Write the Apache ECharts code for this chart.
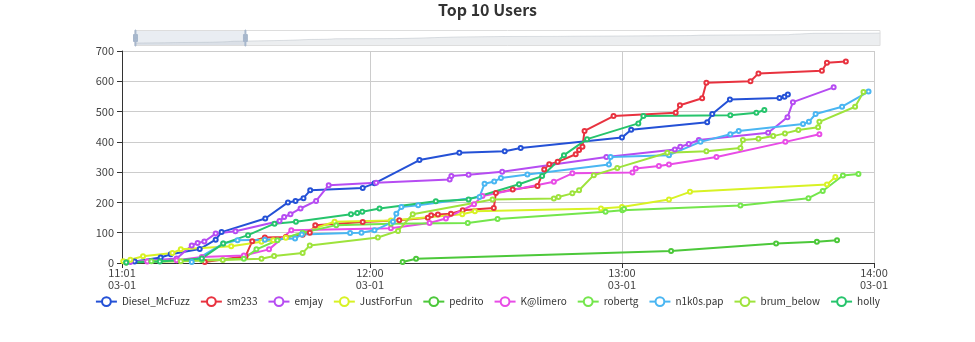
<!DOCTYPE html>
<html>
<head>
<meta charset="utf-8">
<script src="https://cdn.jsdelivr.net/npm/echarts@6/dist/echarts.min.js"></script>
<style>
  html, body { margin: 0; padding: 0; background: #fff; }
  #chart { width: 975px; height: 342px; }
</style>
</head>
<body>
<div id="chart"></div>
<script>
// Cumulative score per user over the session on 03-01 (time, running total)
const day = '2024-03-01 ';
const axisStart = '11:01:00';
const axisEnd = '14:00:00';

const dieselMcFuzz = [
  ['11:04:00', 5], ['11:10:12', 18], ['11:12:36', 29], ['11:19:30', 46], ['11:23:18', 77],
  ['11:24:42', 102], ['11:35:06', 147], ['11:40:30', 200], ['11:42:18', 205], ['11:44:12', 214],
  ['11:45:48', 240], ['11:58:18', 248], ['12:01:06', 263], ['12:11:48', 340], ['12:21:18', 364],
  ['12:32:06', 369], ['12:35:54', 380], ['13:00:00', 414], ['13:02:12', 440], ['13:20:18', 465],
  ['13:21:30', 492], ['13:25:42', 540], ['13:37:30', 545], ['13:38:42', 549], ['13:39:30', 556]
];
const sm233 = [
  ['11:20:42', 3], ['11:30:24', 22], ['11:32:00', 72], ['11:35:00', 84], ['11:40:00', 86],
  ['11:44:00', 93], ['11:45:42', 100], ['11:47:00', 125], ['11:58:18', 135], ['12:07:00', 141],
  ['12:13:48', 149], ['12:14:36', 158], ['12:16:12', 160], ['12:19:18', 163], ['12:22:06', 174],
  ['12:29:30', 182], ['12:30:00', 231], ['12:34:00', 243], ['12:39:54', 254], ['12:41:30', 309],
  ['12:42:42', 326], ['12:44:42', 334], ['12:49:00', 359], ['12:49:48', 373], ['12:50:36', 384],
  ['12:51:06', 436], ['12:58:00', 485], ['13:12:48', 496], ['13:13:48', 521], ['13:19:06', 544],
  ['13:20:06', 595], ['13:30:36', 600], ['13:32:30', 626], ['13:47:36', 635], ['13:48:48', 661],
  ['13:53:18', 665]
];
const emjay = [
  ['11:03:00', 3], ['11:14:00', 15], ['11:17:36', 58], ['11:19:00', 66], ['11:20:36', 71],
  ['11:23:18', 97], ['11:28:00', 105], ['11:38:30', 139], ['11:39:36', 152], ['11:41:06', 161],
  ['11:43:30', 180], ['11:47:12', 205], ['11:50:12', 257], ['12:01:30', 265], ['12:19:00', 276],
  ['12:19:24', 287], ['12:23:30', 291], ['12:31:30', 301], ['12:56:18', 350], ['13:12:36', 375],
  ['13:13:54', 384], ['13:15:54', 393], ['13:18:18', 406], ['13:34:48', 430], ['13:39:24', 481],
  ['13:40:42', 531], ['13:50:24', 580]
];
const justForFun = [
  ['11:01:18', 6], ['11:03:00', 11], ['11:06:00', 22], ['11:13:00', 33], ['11:15:00', 45],
  ['11:27:00', 55], ['11:34:12', 70], ['11:37:00', 75], ['11:40:00', 83], ['11:51:36', 136],
  ['12:05:00', 140], ['12:22:00', 161], ['12:25:00', 171], ['12:55:00', 180], ['13:00:00', 185],
  ['13:11:12', 210], ['13:16:12', 235], ['13:48:48', 259], ['13:50:48', 284]
];
const pedrito = [
  ['12:07:48', 3], ['12:11:00', 14], ['13:11:42', 40], ['13:36:42', 64], ['13:46:24', 70],
  ['13:51:12', 75]
];
const kLimero = [
  ['11:07:00', 5], ['11:14:00', 9], ['11:20:00', 20], ['11:30:00', 25], ['11:36:00', 45],
  ['11:41:18', 108], ['12:05:00', 115], ['12:14:12', 132], ['12:18:06', 147], ['12:24:48', 194],
  ['12:26:48', 221], ['12:43:48', 268], ['12:48:12', 296], ['13:02:30', 299], ['13:03:18', 312],
  ['13:08:48', 320], ['13:11:12', 325], ['13:22:30', 350], ['13:38:54', 400], ['13:47:00', 425]
];
const robertg = [
  ['11:02:00', 2], ['11:08:00', 6], ['11:20:00', 10], ['11:30:00', 14], ['11:33:00', 45],
  ['11:38:00', 75], ['11:44:00', 100], ['11:52:00', 125], ['12:05:00', 130], ['12:23:18', 132],
  ['12:30:24', 145], ['12:56:06', 169], ['13:00:06', 174], ['13:00:30', 178], ['13:28:12', 190],
  ['13:44:24', 214], ['13:47:48', 238], ['13:52:36', 289], ['13:56:18', 294]
];
const n1k0sPap = [
  ['11:17:36', 3], ['11:25:06', 64], ['11:28:30', 75], ['11:35:00', 77], ['11:42:12', 81],
  ['11:43:48', 94], ['11:55:18', 99], ['11:58:00', 100], ['12:01:06', 108], ['12:05:30', 136],
  ['12:06:18', 163], ['12:07:30', 185], ['12:11:30', 191], ['12:26:06', 218], ['12:27:18', 262],
  ['12:29:36', 269], ['12:31:12', 281], ['12:37:30', 292], ['12:56:54', 325], ['12:57:18', 350],
  ['13:11:12', 356], ['13:18:42', 400], ['13:25:48', 425], ['13:27:48', 436], ['13:43:06', 459],
  ['13:44:30', 466], ['13:46:06', 492], ['13:52:24', 516], ['13:58:42', 566]
];
const brumBelow = [
  ['11:02:00', 2], ['11:15:00', 6], ['11:25:00', 10], ['11:34:12', 14], ['11:37:12', 23],
  ['11:44:00', 33], ['11:45:42', 58], ['12:01:54', 84], ['12:06:42', 106], ['12:10:12', 161],
  ['12:29:12', 210], ['12:43:48', 213], ['12:44:54', 218], ['12:48:12', 230], ['12:49:48', 240],
  ['12:53:18', 290], ['12:58:54', 314], ['13:10:48', 364], ['13:20:06', 369], ['13:28:12', 380],
  ['13:28:48', 406], ['13:32:30', 410], ['13:36:00', 419], ['13:38:48', 428], ['13:42:00', 439],
  ['13:46:42', 448], ['13:47:00', 466], ['13:55:30', 516], ['13:57:30', 565]
];
const holly = [
  ['11:02:00', 2], ['11:10:00', 5], ['11:20:00', 15], ['11:25:06', 64], ['11:31:00', 92],
  ['11:37:18', 130], ['11:42:24', 136], ['11:55:30', 161], ['11:57:00', 165], ['11:58:12', 169],
  ['12:02:18', 180], ['12:15:42', 204], ['12:23:30', 210], ['12:35:30', 260], ['12:41:00', 287],
  ['12:46:12', 356], ['12:51:42', 409], ['13:03:54', 461], ['13:05:06', 485], ['13:25:48', 488],
  ['13:32:00', 496], ['13:33:54', 505]
];

const userNames = ['Diesel_McFuzz', 'sm233', 'emjay', 'JustForFun', 'pedrito',
                   'K@limero', 'robertg', 'n1k0s.pap', 'brum_below', 'holly'];
const userData = [dieselMcFuzz, sm233, emjay, justForFun, pedrito,
                  kLimero, robertg, n1k0sPap, brumBelow, holly];
const userColors = ['#2451d6', '#e8323f', '#b64cf2', '#d8f224', '#4cc83a',
                    '#e84ce6', '#74e64c', '#4ab6f2', '#9ee33c', '#26c46c'];
const yTicks = { min: 0, max: 700, step: 100 };

const FONT = '"Noto Sans CJK SC", "Noto Sans", sans-serif';
const toPoints = pts => pts.map(p => [day + p[0], p[1]]);

const lineSeries = userNames.map((name, i) => ({
  name: name,
  type: 'line',
  data: toPoints(userData[i]),
  symbol: 'emptyCircle',
  symbolSize: 4,
  lineStyle: { width: 2, color: userColors[i] },
  itemStyle: { color: userColors[i], borderWidth: 1 }
}));

// overview track for the slider (same totals as the first user, drawn invisibly)
lineSeries.push({
  name: 'overview',
  type: 'line',
  xAxisIndex: 1,
  data: toPoints(dieselMcFuzz),
  showSymbol: false,
  silent: true,
  lineStyle: { opacity: 0 },
  itemStyle: { opacity: 0 },
  z: 0
});

const timeLabel = v => echarts.time.format(v, '{HH}:{mm}\n{MM}-{dd}', false);

const chart = echarts.init(document.getElementById('chart'), null, { renderer: 'canvas' });
chart.setOption({
  animation: false,
  textStyle: { fontFamily: FONT },
  title: {
    text: 'Top 10 Users',
    left: 'center',
    top: 0,
    padding: [2, 5, 5, 5],
    textStyle: { fontSize: 16, fontWeight: 'bold', color: '#333', fontFamily: FONT }
  },
  legend: {
    data: userNames,
    bottom: 30,
    itemGap: 10,
    itemWidth: 21,
    itemHeight: 11,
    textStyle: { fontSize: 10, color: '#333', fontFamily: FONT }
  },
  grid: { left: 122, right: 101, top: 51, bottom: 79 },
  dataZoom: [{
    type: 'slider',
    xAxisIndex: 1,
    start: 0,
    end: 15,
    left: 132,
    right: 97,
    top: 30,
    height: 16,
    showDetail: false,
    brushSelect: false,
    moveHandleSize: 0,
    borderColor: '#ddd',
    backgroundColor: 'rgba(47,69,84,0)',
    fillerColor: 'rgba(167,183,204,0.25)',
    handleIcon: 'path://M8.2,13.6V3.9H6.3v9.7H3.1v14.9h3.3v9.7h1.8v-9.7h3.3V13.6H8.2z M9.7,24.4H4.8v-1.4h4.9V24.4z M9.7,19.1H4.8v-1.4h4.9V19.1z',
    handleSize: '100%',
    handleStyle: { color: '#a7b7cc', borderColor: '#a7b7cc' },
    dataBackground: {
      lineStyle: { color: '#2f4554', width: 0.5, opacity: 0.3 },
      areaStyle: { color: 'rgba(47,69,84,0.3)', opacity: 0.3 }
    },
    selectedDataBackground: {
      lineStyle: { color: '#2f4554', width: 0.5, opacity: 0.3 },
      areaStyle: { color: 'rgba(47,69,84,0.3)', opacity: 0.3 }
    }
  }],
  xAxis: [{
    type: 'time',
    min: day + axisStart,
    max: day + axisEnd,
    minInterval: 3600 * 1000,
    maxInterval: 3600 * 1000,
    axisLine: { show: true, lineStyle: { color: '#333' } },
    axisTick: { show: true, lineStyle: { color: '#333' } },
    axisLabel: {
      color: '#444', fontSize: 11, lineHeight: 12, margin: 4, fontFamily: FONT,
      formatter: timeLabel, showMinLabel: true, showMaxLabel: true
    },
    splitLine: { show: true, lineStyle: { color: '#ccc' } }
  }, {
    type: 'time',
    min: day + axisStart,
    max: day + axisEnd,
    show: false
  }],
  yAxis: {
    type: 'value',
    min: yTicks.min,
    max: yTicks.max,
    interval: yTicks.step,
    axisLine: { show: true, lineStyle: { color: '#333' } },
    axisTick: { show: true, lineStyle: { color: '#333' } },
    axisLabel: { color: '#444', fontSize: 11, fontFamily: FONT },
    splitLine: { show: true, lineStyle: { color: '#ccc' } }
  },
  series: lineSeries
});
</script>
</body>
</html>
